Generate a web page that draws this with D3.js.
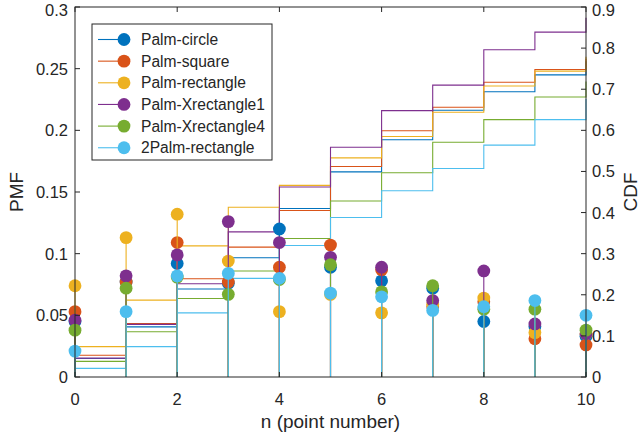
<!DOCTYPE html>
<html><head><meta charset="utf-8">
<script src="https://cdn.jsdelivr.net/npm/d3@7"></script>
<style>body{margin:0;background:#fff;} text{font-family:"Liberation Sans",Arial,sans-serif;fill:#262626;}</style>
</head><body><svg id="c" width="644" height="438"></svg>
<script>
const nValues = [0,1,2,3,4,5,6,7,8,9,10];
const seriesNames = ["Palm-circle","Palm-square","Palm-rectangle","Palm-Xrectangle1","Palm-Xrectangle4","2Palm-rectangle"];
const seriesColors = ["#0072BD","#D95319","#EDB120","#7E2F8E","#77AC30","#4DBEEE"];
const pmfCircle   = [0.045,0.077,0.092,0.076,0.120,0.089,0.078,0.072,0.045,0.041,0.033];
const pmfSquare   = [0.053,0.077,0.109,0.077,0.089,0.107,0.087,0.057,0.061,0.031,0.026];
const pmfRect     = [0.074,0.113,0.132,0.094,0.053,0.067,0.052,0.059,0.064,0.036,0.035];
const pmfXrect1   = [0.046,0.082,0.099,0.126,0.109,0.097,0.089,0.062,0.086,0.043,0.035];
const pmfXrect4   = [0.038,0.072,0.081,0.067,0.079,0.091,0.069,0.074,0.055,0.055,0.038];
const pmf2Palm    = [0.021,0.053,0.082,0.084,0.080,0.068,0.065,0.054,0.057,0.062,0.050];
const cdfCircle   = [0.045,0.122,0.214,0.290,0.410,0.499,0.577,0.649,0.694,0.735,0.768];
const cdfSquare   = [0.053,0.130,0.239,0.316,0.405,0.512,0.599,0.656,0.717,0.748,0.774];
const cdfRect     = [0.074,0.187,0.319,0.413,0.466,0.533,0.585,0.644,0.708,0.744,0.779];
const cdfXrect1   = [0.046,0.128,0.227,0.353,0.462,0.559,0.648,0.710,0.796,0.839,0.874];
const cdfXrect4   = [0.038,0.110,0.191,0.258,0.337,0.428,0.497,0.571,0.626,0.681,0.719];
const cdf2Palm    = [0.021,0.074,0.156,0.240,0.320,0.388,0.453,0.507,0.564,0.626,0.676];
const xTicks = [0,2,4,6,8,10];
const pmfTicks = [0,0.05,0.1,0.15,0.2,0.25,0.3];
const pmfTickLabels = ["0","0.05","0.1","0.15","0.2","0.25","0.3"];
const cdfTicks = [0,0.1,0.2,0.3,0.4,0.5,0.6,0.7,0.8,0.9];
const cdfTickLabels = ["0","0.1","0.2","0.3","0.4","0.5","0.6","0.7","0.8","0.9"];

const pmfs = [pmfCircle,pmfSquare,pmfRect,pmfXrect1,pmfXrect4,pmf2Palm];
const cdfs = [cdfCircle,cdfSquare,cdfRect,cdfXrect1,cdfXrect4,cdf2Palm];

const L=75, R=586, T=7, B=377;
const svg = d3.select("#c");
const x = d3.scaleLinear().domain([0,10]).range([L,R]);
const yL = d3.scaleLinear().domain([0,0.3]).range([B,T]);
const yR = d3.scaleLinear().domain([0,0.9]).range([B,T]);
const axisColor = "#262626";

// stairs (CDF, right axis)
const g = svg.append("g");
cdfs.forEach((c,i)=>{
  let p2=[];
  for (let k=0;k<c.length;k++){
    if (k>0){ p2.push([x(nValues[k]), yR(c[k-1])]); }
    p2.push([x(nValues[k]), yR(c[k])]);
  }
  g.append("path").attr("d", d3.line()(p2)).attr("fill","none")
   .attr("stroke",seriesColors[i]).attr("stroke-width",1.1);
});
// stems
pmfs.forEach((p,i)=>{
  const sg = svg.append("g");
  sg.selectAll("line").data(p).join("line")
    .attr("x1",(d,k)=>x(nValues[k])).attr("x2",(d,k)=>x(nValues[k]))
    .attr("y1",yL(0)).attr("y2",d=>yL(d))
    .attr("stroke",seriesColors[i]).attr("stroke-width",1.1);
  sg.selectAll("circle").data(p).join("circle")
    .attr("cx",(d,k)=>x(nValues[k])).attr("cy",d=>yL(d)).attr("r",6.4)
    .attr("fill",seriesColors[i]);
});

// axes
const ax = svg.append("g");
ax.append("rect").attr("x",L).attr("y",T).attr("width",R-L).attr("height",B-T)
  .attr("fill","none").attr("stroke",axisColor).attr("stroke-width",1);
const tl = 5;
const tickFont = 16.5;
xTicks.forEach(t=>{
  ax.append("line").attr("x1",x(t)).attr("x2",x(t)).attr("y1",B).attr("y2",B-tl).attr("stroke",axisColor);
  ax.append("line").attr("x1",x(t)).attr("x2",x(t)).attr("y1",T).attr("y2",T+tl).attr("stroke",axisColor);
  ax.append("text").attr("x",x(t)).attr("y",405).attr("text-anchor","middle").attr("font-size",tickFont).text(t);
});
pmfTicks.forEach((t,i)=>{
  ax.append("line").attr("x1",L).attr("x2",L+tl).attr("y1",yL(t)).attr("y2",yL(t)).attr("stroke",axisColor);
  ax.append("text").attr("x",68).attr("y",Math.max(yL(t)+6,15.5)).attr("text-anchor","end").attr("font-size",tickFont).text(pmfTickLabels[i]);
});
cdfTicks.forEach((t,i)=>{
  ax.append("line").attr("x1",R).attr("x2",R-tl).attr("y1",yR(t)).attr("y2",yR(t)).attr("stroke",axisColor);
  ax.append("text").attr("x",592).attr("y",Math.max(yR(t)+6,15.5)).attr("text-anchor","start").attr("font-size",tickFont).text(cdfTickLabels[i]);
});
const titleFont = 19;
ax.append("text").attr("x",(L+R)/2).attr("y",428).attr("text-anchor","middle").attr("font-size",titleFont).text("n (point number)");
ax.append("text").attr("transform",`translate(23,${(T+B)/2}) rotate(-90)`).attr("text-anchor","middle").attr("font-size",titleFont).text("PMF");
ax.append("text").attr("transform",`translate(637,${(T+B)/2}) rotate(-90)`).attr("text-anchor","middle").attr("font-size",titleFont).text("CDF");

// legend
const lg = svg.append("g");
lg.append("rect").attr("x",92).attr("y",24).attr("width",180).attr("height",136)
  .attr("fill","#fff").attr("stroke",axisColor).attr("stroke-width",1);
seriesNames.forEach((nm,i)=>{
  const cy = 39.5 + i*21.65;
  lg.append("line").attr("x1",98).attr("x2",124).attr("y1",cy).attr("y2",cy).attr("stroke",seriesColors[i]).attr("stroke-width",1.1);
  lg.append("circle").attr("cx",124).attr("cy",cy).attr("r",6.4).attr("fill",seriesColors[i]);
  lg.append("text").attr("x",141).attr("y",cy+5.5).attr("font-size",15.6).text(nm);
});
</script></body></html>
